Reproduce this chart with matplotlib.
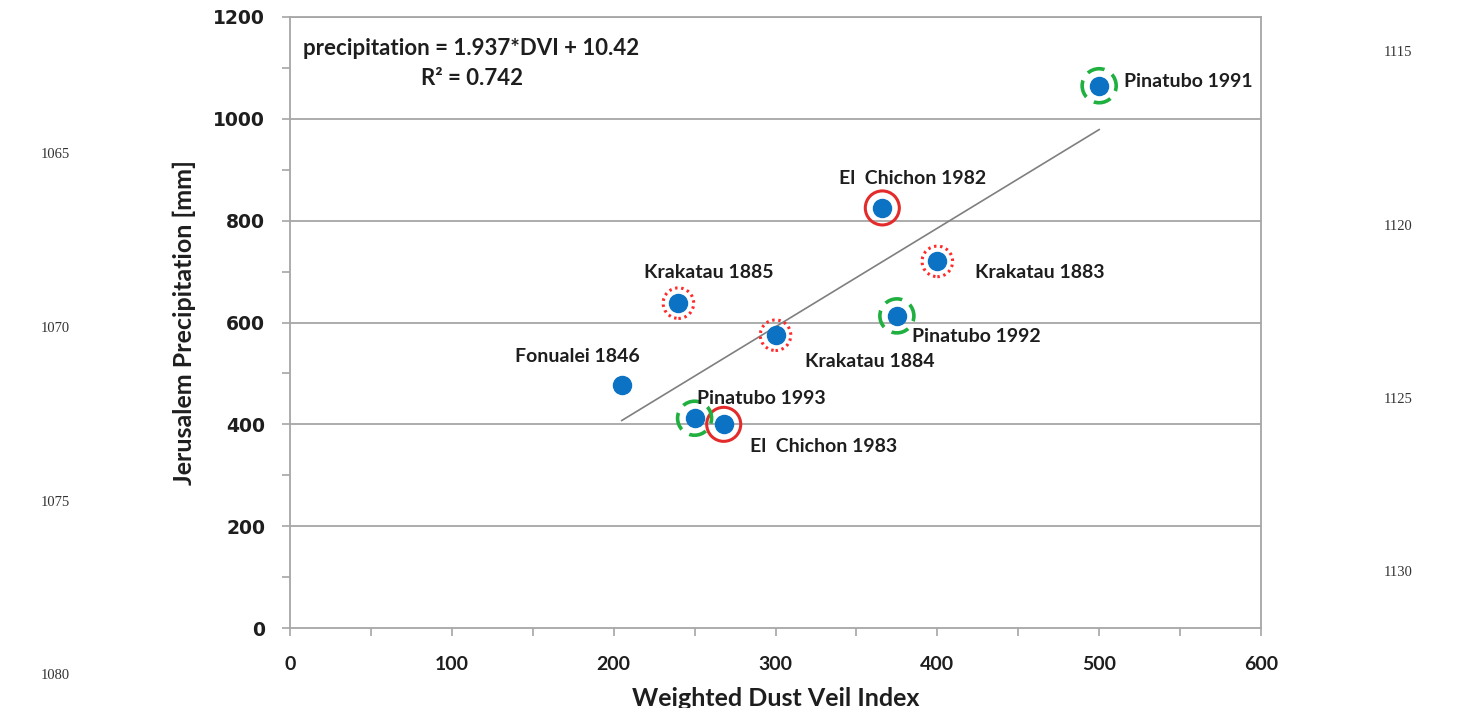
import numpy as np
import matplotlib
matplotlib.use("Agg")
from matplotlib import pyplot as plt

# data
names = ["Fonualei 1846", "Krakatau 1885", "Krakatau 1884", "Pinatubo 1993",
         "El  Chichon 1983", "El  Chichon 1982", "Krakatau 1883", "Pinatubo 1992",
         "Pinatubo 1991"]
dvi = [205, 240, 300, 250, 268, 366, 400, 375, 500]
precip = [478, 638, 575, 412, 400, 825, 720, 613, 1065]
groups = ["none", "krakatau", "krakatau", "pinatubo", "chichon", "chichon",
          "krakatau", "pinatubo", "pinatubo"]
# label offsets (points) from each point
offs = [(-32, 20), (22, 22), (68, -19), (48, 14), (72, -16), (22, 21), (74, -8),
        (57, -15), (64, 3)]

slope = 1.937
intercept = 10.42
r2 = 0.742

left_nums = ["1065", "1070", "1075", "1080"]
right_nums = ["1115", "1120", "1125", "1130"]

fig = plt.figure(figsize=(14.57, 7.08), dpi=100)
ax = fig.add_axes([290/1457, 1-628/708, (1261-290)/1457, (628-17)/708])

grey = "#a6a6a6"
ink = "#1e1e1e"
ax.set_xlim(0, 600)
ax.set_ylim(0, 1200)
for y in range(200, 1201, 200):
    ax.axhline(y, color=grey, lw=1.3, zorder=0)

x = np.array(dvi)
y = np.array(precip)
g = np.array(groups)

# trend line
xl = np.array([x.min(), x.max()])
ax.plot(xl, slope*xl + intercept, color="#7f7f7f", lw=1.2, zorder=1)

# rings
ring = 24.5**2
m = g == "chichon"
ax.scatter(x[m], y[m], s=ring, facecolors="none", edgecolors="#e32b2b", linewidths=2.2, zorder=2)
m = g == "krakatau"
ax.scatter(x[m], y[m], s=22**2, facecolors="none", edgecolors="#ff2a2a", linewidths=2.2,
           linestyles=(0, (0.8, 1.2)), zorder=2)
m = g == "pinatubo"
ax.scatter(x[m], y[m], s=ring, facecolors="none", edgecolors="#1fb040", linewidths=2.6,
           linestyles=(1.5, (4.9, 2.5)), zorder=2)

ax.scatter(x, y, s=13**2, color="#0b72c4", zorder=3)

for n, xi, yi, o in zip(names, dvi, precip, offs):
    ax.annotate(n, (xi, yi), xytext=o, textcoords="offset points", ha="center", va="center",
                fontsize=14, fontweight="bold", family="Lato", color=ink)

ax.text(0.013, 0.948, "precipitation = %.3f*DVI + %.2f" % (slope, intercept), transform=ax.transAxes,
        fontsize=16, fontweight="bold", family="Lato", color=ink, va="center")
ax.text(0.187, 0.900, "R² = %.3f" % r2, transform=ax.transAxes, ha="center",
        fontsize=16, fontweight="bold", family="Lato", color=ink, va="center")

for s in ["left", "bottom", "right", "top"]:
    ax.spines[s].set_color(grey)
    ax.spines[s].set_linewidth(1.3)

ax.set_xticks(range(0, 601, 100))
ax.set_xticks(range(0, 601, 50), minor=True)
ax.set_yticks(range(0, 1201, 200))
ax.set_yticks(range(0, 1201, 100), minor=True)
ax.tick_params(which="both", color=grey, length=6, width=1.2)
ax.tick_params(axis="x", pad=14)
ax.tick_params(axis="y", pad=12)
for t in ax.get_xticklabels():
    t.set_family("Lato"); t.set_fontweight("bold"); t.set_fontsize(14); t.set_color(ink)
for t in ax.get_yticklabels():
    t.set_family("DejaVu Sans"); t.set_fontweight("bold"); t.set_fontsize(13.5); t.set_color(ink)

ax.set_xlabel("Weighted Dust Veil Index", family="Lato", fontweight="bold", fontsize=18,
              color=ink, labelpad=10)
ax.set_ylabel("Jerusalem Precipitation [mm]", family="Lato", fontweight="bold", fontsize=18,
              color=ink, labelpad=12)

# line numbers of the page
for i, t in enumerate(left_nums):
    fig.text(55/1457, 1-(155+173.5*i)/708, t, family="Liberation Serif", fontsize=10.5,
             ha="center", va="center", color="#333333")
for i, t in enumerate(right_nums):
    fig.text(1398/1457, 1-(53+173*i)/708, t, family="Liberation Serif", fontsize=10.5,
             ha="center", va="center", color="#333333")

plt.savefig("out.png", dpi=100)
